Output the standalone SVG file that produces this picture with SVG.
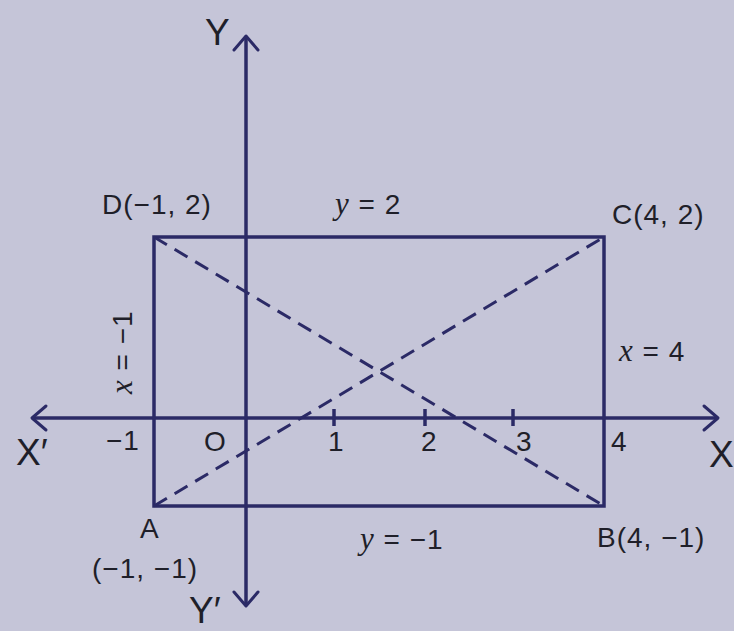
<svg xmlns="http://www.w3.org/2000/svg" width="734" height="631" viewBox="0 0 734 631">
<defs>
<style>
.ln{stroke:#2b2a66;stroke-width:3.5;fill:none}
.ds{stroke:#2b2a66;stroke-width:3;fill:none;stroke-dasharray:15 9}
.ar{stroke:#2b2a66;stroke-width:3;fill:none;stroke-linecap:round;stroke-linejoin:round}
.t{font-family:"Liberation Sans",Arial,sans-serif;font-size:28px;letter-spacing:1px;fill:#1f1f29}
.b{font-family:"Liberation Sans",Arial,sans-serif;font-size:37px;fill:#1f1f29}
.i{font-family:"Liberation Serif","Times New Roman",serif;font-style:italic;font-size:31px}
</style>
</defs>
<rect width="734" height="631" fill="#c5c5d8"/>
<g id="connectors">
<line class="ln" x1="32" y1="418" x2="718" y2="418"/>
<path class="ar" d="M46 406 L32 418 L46 430"/>
<path class="ar" d="M704 406 L718 418 L704 430"/>
<line class="ln" x1="246" y1="36" x2="246" y2="606"/>
<path class="ar" d="M234 50 L246 36 L258 50"/>
<path class="ar" d="M234 592 L246 606 L258 592"/>
<line class="ln" x1="334" y1="409" x2="334" y2="426"/>
<line class="ln" x1="425" y1="409" x2="425" y2="426"/>
<line class="ln" x1="513" y1="409" x2="513" y2="426"/>
<rect class="ln" x="154" y="237" width="450" height="269"/>
<line class="ds" x1="154" y1="237" x2="604" y2="506"/>
<line class="ds" x1="154" y1="506" x2="604" y2="237"/>
</g>
<g id="labels">
<text class="b" x="205" y="45">Y</text>
<text class="b" x="189" y="623">Y′</text>
<text class="b" x="16" y="465">X′</text>
<text class="b" x="709" y="467">X</text>
<text class="t" x="102" y="214">D(−1, 2)</text>
<text class="t" x="335" y="214"><tspan class="i">y</tspan> = 2</text>
<text class="t" x="612" y="224">C(4, 2)</text>
<text class="t" x="619" y="361"><tspan class="i">x</tspan> = 4</text>
<text class="t" transform="translate(132,394) rotate(-90)"><tspan class="i">x</tspan> = −1</text>
<text class="t" x="106" y="450">−1</text>
<text class="t" x="204" y="451" font-size="30">O</text>
<text class="t" x="328" y="451">1</text>
<text class="t" x="421" y="451">2</text>
<text class="t" x="516" y="451">3</text>
<text class="t" x="611" y="451">4</text>
<text class="t" x="140" y="538">A</text>
<text class="t" x="92" y="578">(−1, −1)</text>
<text class="t" x="360" y="549"><tspan class="i">y</tspan> = −1</text>
<text class="t" x="597" y="547">B(4, −1)</text>
</g>
</svg>
